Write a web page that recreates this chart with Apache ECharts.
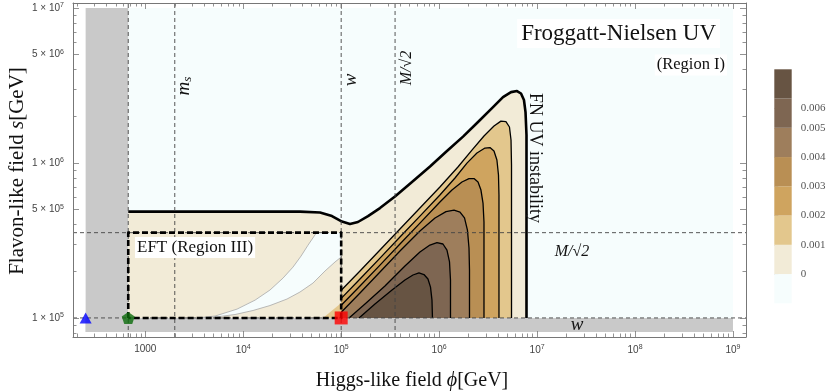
<!DOCTYPE html>
<html><head><meta charset="utf-8">
<script src="https://cdn.jsdelivr.net/npm/echarts@6/dist/echarts.min.js"></script>
<style>html,body{margin:0;padding:0;background:#fff}#c{width:830px;height:391px}</style>
</head><body><div id="c"></div>
<script>
// ================= DATA (all geometry in log10 units: [log10 φ/GeV, log10 s/GeV]) =================
const xTickValues = [1e3, 1e4, 1e5, 1e6, 1e7, 1e8, 1e9];
const xTickLabels = ['1000', '10^4', '10^5', '10^6', '10^7', '10^8', '10^9'];
const yTickValues = [1e5, 5e5, 1e6, 5e6, 1e7];
const yTickLabels = ['1 × 10^5', '5 × 10^5', '1 × 10^6', '5 × 10^6', '1 × 10^7'];
const xMinorMantissas = [2, 3, 4, 5, 6, 7, 8, 9];
const yMinorMantissas = [2, 3, 4, 6, 7, 8, 9];

// key scales in GeV
const vEW = 246, mLow = 670, ms = 2000, w = 1e5, Mroot2 = 3.55e5;
const phiRange = [246, 1e9];   // computed domain in φ
const sRange = [8.1e4, 1e7];   // computed domain in s

// level-0 (outer, thick) boundary
const lvl0 = [[2.826,5.686],[4.579,5.686],[4.784,5.680],[4.906,5.657],[5.008,5.622],[5.090,5.606],[5.171,5.619],
  [5.274,5.657],[5.396,5.709],[5.549,5.783],[5.723,5.877],[5.907,5.977],[6.080,6.077],[6.244,6.170],[6.397,6.264],
  [6.540,6.354],[6.652,6.425],[6.734,6.457],[6.795,6.464],[6.836,6.448],[6.866,6.406],[6.882,6.328],[6.892,6.180],[6.892,5.0]];
const lvl1 = [[5.003,5.180],[5.192,5.303],[5.396,5.438],[5.600,5.574],[5.804,5.709],[6.008,5.845],[6.192,5.974],[6.335,6.083],
  [6.458,6.174],[6.560,6.238],[6.631,6.270],[6.682,6.267],[6.718,6.232],[6.734,6.148],[6.739,5.986],[6.739,5.0]];
const lvl1Left = [[4.814,5.0],[5.0,5.096],[5.0,5.0]];
const lvl2 = [[5.003,5.128],[5.192,5.251],[5.396,5.386],[5.600,5.522],[5.804,5.657],[6.008,5.793],[6.162,5.903],[6.284,5.999],
  [6.386,6.064],[6.468,6.096],[6.519,6.099],[6.560,6.077],[6.590,6.019],[6.606,5.922],[6.611,5.793],[6.611,5.0]];
const lvl3 = [[5.003,5.083],[5.192,5.206],[5.396,5.341],[5.600,5.477],[5.804,5.612],[6.008,5.748],[6.131,5.825],[6.233,5.877],
  [6.305,5.899],[6.356,5.899],[6.397,5.877],[6.427,5.825],[6.448,5.741],[6.458,5.619],[6.458,5.0]];
const lvl4 = [[5.003,5.038],[5.192,5.161],[5.396,5.296],[5.600,5.432],[5.804,5.561],[5.958,5.645],[6.070,5.686],[6.152,5.696],
  [6.213,5.683],[6.259,5.645],[6.289,5.567],[6.305,5.451],[6.310,5.309],[6.310,5.0]];
const lvl5 = [[5.080,5.0],[5.243,5.090],[5.447,5.206],[5.651,5.335],[5.804,5.425],[5.906,5.470],[5.978,5.486],[6.039,5.477],
  [6.080,5.438],[6.106,5.361],[6.116,5.245],[6.116,5.0]];
const lvl6 = [[5.182,5.0],[5.345,5.090],[5.519,5.180],[5.651,5.245],[5.733,5.277],[5.794,5.290],[5.845,5.280],[5.886,5.251],
  [5.912,5.199],[5.927,5.115],[5.932,5.0]];
// negative wedge inside EFT box
const wedgeUpper = [[3.528,5.0],[3.712,5.012],[3.937,5.057],[4.121,5.115],[4.273,5.180],[4.406,5.257],[4.508,5.328],
  [4.590,5.399],[4.662,5.470],[4.748,5.55]];
const wedgeLower = [[5.0,5.393],[4.937,5.361],[4.835,5.303],[4.712,5.225],[4.579,5.167],[4.447,5.122],[4.273,5.080],
  [4.100,5.048],[3.916,5.022],[3.732,5.007],[3.528,5.0]];

const levelLabels = ['0', '0.001', '0.002', '0.003', '0.004', '0.005', '0.006'];
const levelColors = ['#f2ebd7', '#e3c78d', '#cfa45f', '#b98f54', '#9e7e5c', '#7e6652', '#675443'];
const negColor = '#f6fdfd';
const grayColor = '#c9c9c9';
const cbLabelPos = [1, 2, 3, 4, 5, 6, 6.68];

// ================= BUILD =================
const lg = Math.log10;
const X_MIN = 2.262, X_MAX = 9.133, Y_MIN = 4.877, Y_MAX = 7.032;
const xMajor = xTickValues.map(lg);
const yMajor = yTickValues.map(lg);
const xMinor = [], yMinor = [];
for (let e = 2; e <= 8; e++) xMinorMantissas.forEach(m => { const v = lg(m * Math.pow(10, e)); if (v > X_MIN && v < X_MAX) xMinor.push(v); });
for (let e = 4; e <= 6; e++) yMinorMantissas.forEach(m => { const v = lg(m * Math.pow(10, e)); if (v > Y_MIN && v < Y_MAX) yMinor.push(v); });

const X_V = lg(vEW), X_L = lg(mLow), X_MS = lg(ms), X_W = lg(w), X_M = lg(Mroot2);
const P0 = lg(phiRange[0]), P1 = lg(phiRange[1]), S0 = lg(sRange[0]), S1 = lg(sRange[1]);

function richSup(label) {
  const i = label.indexOf('^');
  if (i < 0) return '{b|' + label + '}';
  return '{b|' + label.slice(0, i) + '}{s|' + label.slice(i + 1) + '}';
}
function findIdx(arr, v) { let best = 0; arr.forEach((a, i) => { if (Math.abs(a - v) < Math.abs(arr[best] - v)) best = i; }); return best; }
const tickRich = {
  b: { fontFamily: 'Liberation Sans', fontSize: 10, color: '#444' },
  s: { fontFamily: 'Liberation Sans', fontSize: 7, color: '#444', padding: [0, 0, 6, 0] }
};
const frameColor = '#777';

function shape(kind, pts, style, z) {
  return {
    type: 'custom', silent: true, z: z || 2, clip: true,
    xAxisIndex: 0, yAxisIndex: 0,
    data: [pts[0]],
    renderItem: (params, api) => ({
      type: kind,
      shape: { points: pts.map(p => api.coord(p)) },
      style: Object.assign({}, style)
    })
  };
}
const fill = c => ({ fill: c, stroke: null });
const line = (c, wd, dash) => ({ fill: null, stroke: c, lineWidth: wd, lineDash: dash || null, lineJoin: 'round' });

const series = [];
// background regions
series.push(shape('polygon', [[X_L, 5], [P1, 5], [P1, S1], [X_L, S1]], fill(negColor)));
series.push(shape('polygon', [[P0, S0], [X_L, S0], [X_L, S1], [P0, S1]], fill(grayColor)));
series.push(shape('polygon', [[P0, S0], [P1, S0], [P1, 5], [P0, 5]], fill(grayColor)));
// filled levels
series.push(shape('polygon', [[X_L, 5]].concat(lvl0), fill(levelColors[0])));
series.push(shape('polygon', lvl1Left, fill(levelColors[1])));
[lvl1, lvl2, lvl3, lvl4].forEach((l, i) => series.push(shape('polygon', l.concat([[5, 5]]), fill(levelColors[i + 1]))));
[lvl5, lvl6].forEach((l, i) => series.push(shape('polygon', l, fill(levelColors[i + 5]))));
// negative wedge
series.push(shape('polygon', wedgeUpper.concat([[X_W, lg(Mroot2)]]).concat(wedgeLower), fill(negColor)));
series.push(shape('polyline', wedgeUpper, line('#a8a8a8', 0.8)));
series.push(shape('polyline', wedgeLower, line('#a8a8a8', 0.8)));
// contour lines
[lvl1, lvl2, lvl3, lvl4, lvl5, lvl6].forEach(l => series.push(shape('polyline', l, line('#000', 1.3))));
series.push(shape('polyline', lvl0, line('#000', 2.6)));
// dashed grid lines
[X_L, X_MS, X_W, X_M].forEach(x => series.push(shape('polyline', [[x, Y_MIN], [x, Y_MAX]], line('#444', 0.9, [4, 3]), 3)));
[5, lg(Mroot2)].forEach(y => series.push(shape('polyline', [[X_MIN, y], [X_MAX, y]], line('#444', 0.9, [4, 3]), 3)));
// EFT box
series.push(shape('polyline', [[X_L, 5], [X_L, lg(Mroot2)], [X_W, lg(Mroot2)], [X_W, 5], [X_L, 5]], line('#000', 2.6, [6, 3]), 4));
// markers
series.push({
  type: 'scatter', z: 6, silent: true, xAxisIndex: 0, yAxisIndex: 0,
  data: [
    { value: [X_V, 5], symbol: 'triangle', symbolSize: [12, 11], itemStyle: { color: '#0000ff' } },
    { value: [X_L, 5], symbol: 'path://M0,-1L0.951,-0.309L0.588,0.809L-0.588,0.809L-0.951,-0.309Z', symbolSize: [13, 12], itemStyle: { color: '#0b6b0b' } },
    { value: [X_W, 5], symbol: 'rect', symbolSize: 13, itemStyle: { color: '#ff0000' } }
  ]
});
// colour bar
const cbColors = [negColor].concat(levelColors);
series.push({
  type: 'custom', silent: true, xAxisIndex: 4, yAxisIndex: 4,
  data: cbColors.map((c, i) => [0.5, i + 0.5]),
  renderItem: (params, api) => {
    const i = params.dataIndex;
    const a = api.coord([0, i + 1]), b = api.coord([1, i]);
    return { type: 'rect', shape: { x: a[0], y: a[1], width: b[0] - a[0], height: b[1] - a[1] }, style: { fill: cbColors[i] } };
  }
});

function xAx(pos, vals, len, labels, lineShow) {
  return {
    type: 'value', gridIndex: 0, position: pos, min: X_MIN, max: X_MAX, z: 10,
    axisLine: { show: lineShow, onZero: false, lineStyle: { color: frameColor, width: 1 } },
    axisTick: { show: true, inside: true, length: len, customValues: vals, lineStyle: { color: frameColor, width: 0.8 } },
    axisLabel: labels ? {
      show: true, customValues: xMajor, margin: 7, rich: tickRich,
      formatter: v => richSup(xTickLabels[findIdx(xMajor, v)])
    } : { show: false },
    splitLine: { show: false }
  };
}
function yAx(pos, vals, len, labels, lineShow) {
  return {
    type: 'value', gridIndex: 0, position: pos, min: Y_MIN, max: Y_MAX, z: 10,
    axisLine: { show: lineShow, onZero: false, lineStyle: { color: frameColor, width: 1 } },
    axisTick: { show: true, inside: true, length: len, customValues: vals, lineStyle: { color: frameColor, width: 0.8 } },
    axisLabel: labels ? {
      show: true, customValues: yMajor, margin: 9, rich: tickRich,
      formatter: v => richSup(yTickLabels[findIdx(yMajor, v)])
    } : { show: false },
    splitLine: { show: false }
  };
}

const serif = '"Liberation Serif", "DejaVu Serif", serif';
function txt(x, y, text, size, opts) {
  opts = opts || {};
  return {
    type: 'text', x: x, y: y, rotation: opts.rot || 0, z: 50, silent: true,
    style: Object.assign({
      text: text, fontFamily: serif, fontSize: size, fill: '#111',
      fontStyle: opts.italic ? 'italic' : 'normal',
      align: opts.align || 'center', verticalAlign: 'middle',
      textAlign: opts.align || 'center', textVerticalAlign: 'middle'
    }, opts.extra || {})
  };
}

const option = {
  animation: false,
  grid: [
    { left: 73, top: 3, width: 673, height: 334 },
    { left: 774.3, top: 69.3, width: 17.4, height: 234 }
  ],
  xAxis: [
    xAx('bottom', xMajor, 6, true, true),
    xAx('bottom', xMinor, 3.5, false, false),
    xAx('top', xMajor, 6, false, true),
    xAx('top', xMinor, 3.5, false, false),
    { type: 'value', gridIndex: 1, min: 0, max: 1, show: false }
  ],
  yAxis: [
    yAx('left', yMajor, 6, true, true),
    yAx('left', yMinor, 3.5, false, false),
    yAx('right', yMajor, 6, false, true),
    yAx('right', yMinor, 3.5, false, false),
    {
      type: 'value', gridIndex: 1, min: 0, max: 8, position: 'right',
      axisLine: { show: false },
      axisTick: { show: true, inside: false, length: 4, customValues: cbLabelPos, lineStyle: { color: '#bbb', width: 0.8 } },
      axisLabel: { show: true, customValues: cbLabelPos, margin: 9, fontFamily: serif, fontSize: 11, color: '#555',
        formatter: v => levelLabels[findIdx(cbLabelPos, v)] },
      splitLine: { show: false }
    }
  ],
  series: series,
  graphic: [
    txt(720, 33.5, 'Froggatt-Nielsen UV', 23, { align: 'right', extra: { backgroundColor: '#fff', padding: [3, 4, 3, 4] } }),
    txt(727, 65, '(Region I)', 16.5, { align: 'right', extra: { backgroundColor: '#fff', padding: [2, 2, 2, 2] } }),
    txt(135, 247.5, 'EFT (Region III)', 17, { align: 'left', extra: { backgroundColor: '#fff', padding: [2, 2, 2, 2] } }),
    txt(535, 158, 'FN UV instability', 18, { rot: -Math.PI / 2 }),
    { type: 'text', x: 184, y: 86, rotation: Math.PI / 2, z: 50, silent: true,
      style: { text: '{m|m}{s|s}', align: 'center', verticalAlign: 'middle', textAlign: 'center', textVerticalAlign: 'middle',
        rich: { m: { fontFamily: serif, fontStyle: 'italic', fontSize: 19, fill: '#111', color: '#111' },
                s: { fontFamily: serif, fontStyle: 'italic', fontSize: 13, fill: '#111', color: '#111', padding: [8, 0, 0, 0] } } } },
    txt(351, 80, 'w', 19, { rot: Math.PI / 2, italic: true }),
    txt(407, 68, 'M/√2', 16, { rot: Math.PI / 2, italic: true }),
    txt(572, 252, 'M/√2', 16, { italic: true }),
    txt(577, 325, 'w', 19, { italic: true }),
    { type: 'text', x: 412, y: 381, z: 50, silent: true,
      style: { text: 'Higgs-like field {i|ϕ}[GeV]', fontFamily: serif, fontSize: 20, fill: '#111', align: 'center', verticalAlign: 'middle',
        textAlign: 'center', textVerticalAlign: 'middle',
        rich: { i: { fontFamily: serif, fontStyle: 'italic', fontSize: 20, fill: '#111', color: '#111' } } } },
    { type: 'text', x: 17, y: 171, rotation: Math.PI / 2, z: 50, silent: true,
      style: { text: 'Flavon-like field {i|s}[GeV]', fontFamily: serif, fontSize: 21, fill: '#111', align: 'center', verticalAlign: 'middle',
        textAlign: 'center', textVerticalAlign: 'middle',
        rich: { i: { fontFamily: serif, fontStyle: 'italic', fontSize: 21, fill: '#111', color: '#111' } } } }
  ]
};
const chart = echarts.init(document.getElementById('c'));
chart.setOption(option);
</script>
</body></html>
